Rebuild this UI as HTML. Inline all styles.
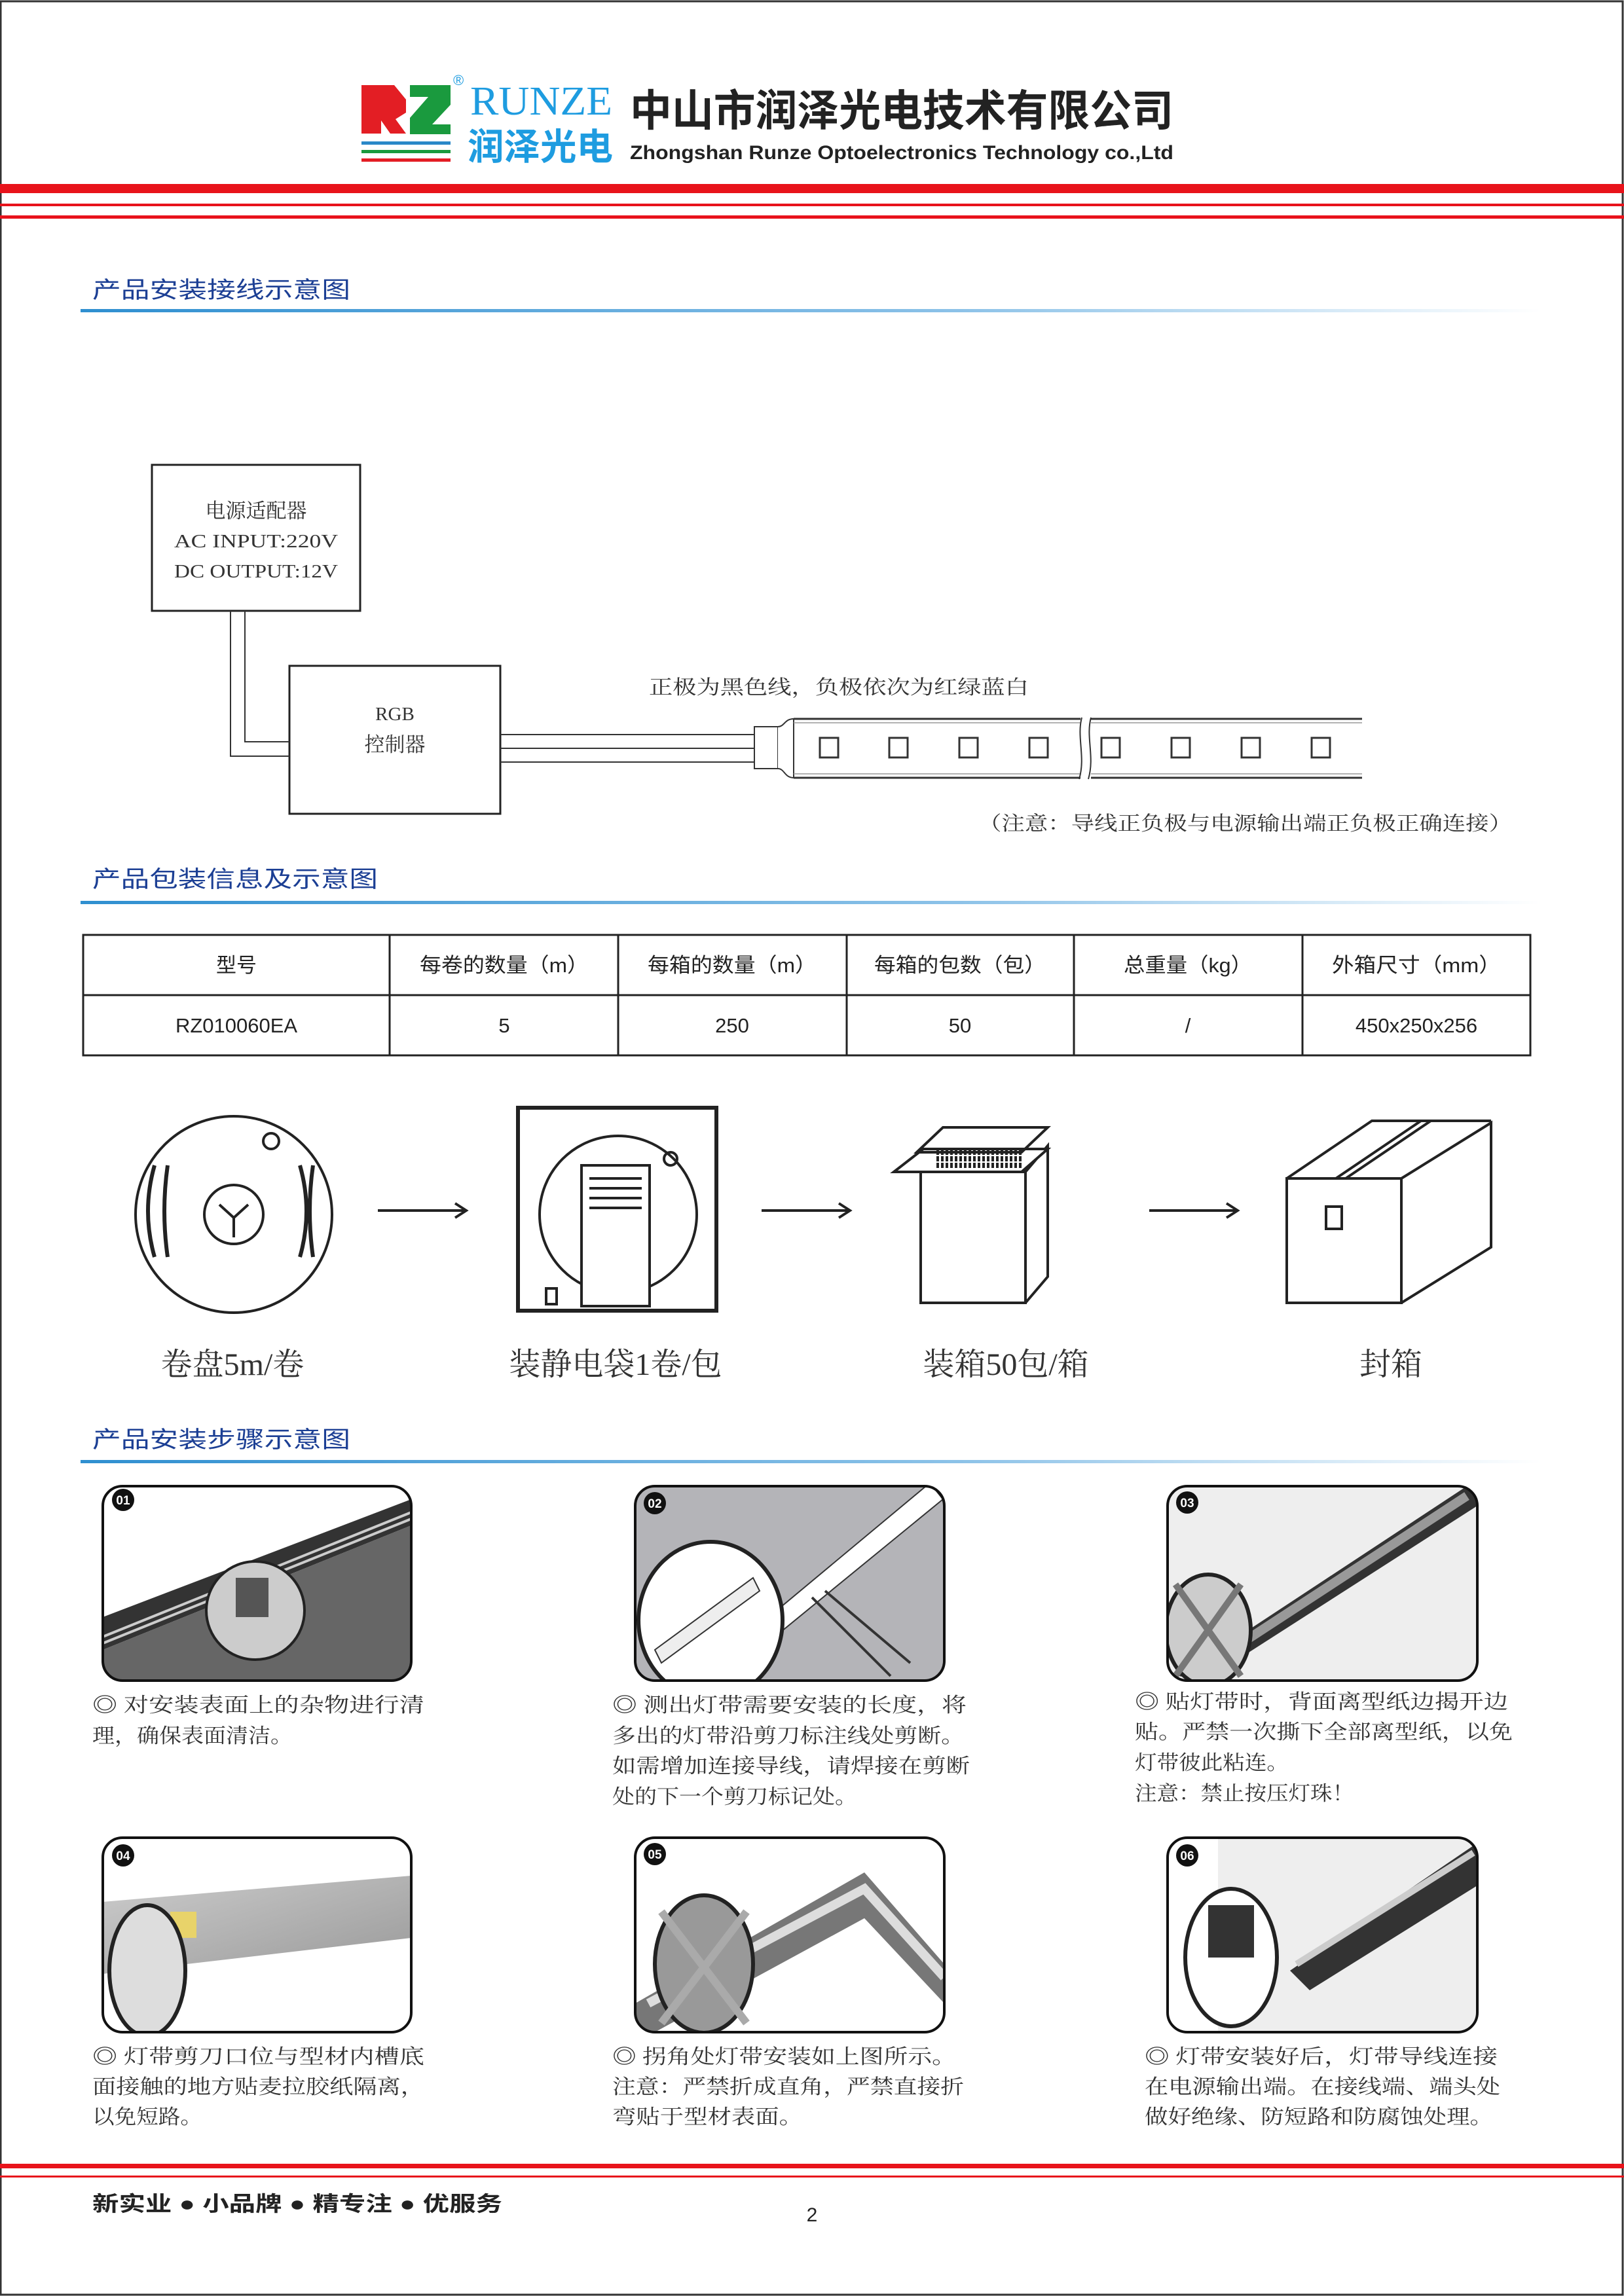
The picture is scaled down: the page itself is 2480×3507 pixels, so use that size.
<!DOCTYPE html>
<html><head><meta charset="utf-8"><style>
html,body{margin:0;padding:0;background:#fff}
svg{display:block}
.s{font-family:"Liberation Serif","Noto Serif CJK SC",serif}
.a{font-family:"Liberation Sans","Noto Sans CJK SC",sans-serif}
</style></head><body>
<svg width="2480" height="3507" viewBox="0 0 2480 3507" xmlns="http://www.w3.org/2000/svg">
<defs>
<linearGradient id="g" x1="0" x2="1"><stop offset="0" stop-color="#2f8fd0"/><stop offset="0.6" stop-color="#8cc2e8"/><stop offset="1" stop-color="#ffffff"/></linearGradient>
<linearGradient id="al" x1="0" x2="1" y1="0" y2="1"><stop offset="0" stop-color="#ccc"/><stop offset="1" stop-color="#999"/></linearGradient>
</defs>
<rect x="1" y="2" width="2477" height="3503" fill="none" stroke="#333" stroke-width="3"/>

<!-- Logo -->
<path d="M552 130h50l18 22v20l-16 10 16 22h-24l-14-20v20h-30z" fill="#e31e24"/>
<path d="M626 130h62v30l-28 30h28v15h-62v-25l28-32h-28z" fill="#1a9a3e"/>
<rect x="552" y="216" width="136" height="5" fill="#2a88c8"/>
<rect x="552" y="229" width="136" height="5" fill="#1a9a3e"/>
<rect x="552" y="242" width="136" height="5" fill="#e31e24"/>
<text x="692" y="130" font-size="22" fill="#1e9ce0" class="a">®</text>
<text x="718" y="175" font-size="62" fill="#1e9ce0" class="s" textLength="217" lengthAdjust="spacingAndGlyphs">RUNZE</text>
<text x="714" y="244" font-size="56" font-weight="bold" fill="#1e9ce0" class="a" textLength="222" lengthAdjust="spacingAndGlyphs">润泽光电</text>
<text x="962" y="192" font-size="66" font-weight="bold" fill="#222" class="a" textLength="830" lengthAdjust="spacingAndGlyphs">中山市润泽光电技术有限公司</text>
<text x="962" y="243" font-size="30" font-weight="bold" fill="#222" class="a" textLength="830" lengthAdjust="spacingAndGlyphs">Zhongshan Runze Optoelectronics Technology co.,Ltd</text>

<rect x="0" y="281" width="2480" height="14" fill="#e8131b"/>
<rect x="0" y="311" width="2480" height="4" fill="#e8131b"/>
<rect x="0" y="329" width="2480" height="5" fill="#e8131b"/>

<!-- Section 1 -->
<text x="141" y="455" font-size="35" fill="#1c3f94" class="a" textLength="394" lengthAdjust="spacingAndGlyphs">产品安装接线示意图</text>
<rect x="123" y="472" width="2230" height="5" fill="url(#g)"/>

<rect x="232" y="710" width="318" height="223" fill="none" stroke="#222" stroke-width="3"/>
<text x="391" y="791" font-size="31" text-anchor="middle" class="s" fill="#333">电源适配器</text>
<text x="391" y="836" font-size="29" text-anchor="middle" class="s" fill="#333" textLength="250" lengthAdjust="spacingAndGlyphs">AC INPUT:220V</text>
<text x="391" y="882" font-size="29" text-anchor="middle" class="s" fill="#333" textLength="250" lengthAdjust="spacingAndGlyphs">DC OUTPUT:12V</text>
<rect x="442" y="1017" width="322" height="226" fill="none" stroke="#222" stroke-width="3"/>
<text x="603" y="1100" font-size="29" text-anchor="middle" class="s" fill="#333">RGB</text>
<text x="603" y="1148" font-size="31" text-anchor="middle" class="s" fill="#333">控制器</text>
<path d="M352 933V1155H442M374 933V1133H442" fill="none" stroke="#333" stroke-width="2"/>
<path d="M764 1122H1152M764 1143H1152M764 1164H1152" stroke="#333" stroke-width="2"/>
<path d="M1152 1110h36v64h-36z" fill="#fff" stroke="#333" stroke-width="2"/>
<path d="M1188 1110c10 0 10-12 24-12v90c-14 0-14-14-24-14" fill="#fff" stroke="#333" stroke-width="2"/>
<path d="M1212 1098H1650M1212 1188H1650M1666 1098H2080M1666 1188H2080" stroke="#333" stroke-width="3"/>
<path d="M1212 1104H1650M1212 1182H1650M1666 1104H2080M1666 1182H2080" stroke="#999" stroke-width="1.5"/>
<path d="M1652 1096c-8 30 6 60-4 94M1666 1096c-8 30 6 60-4 94" fill="none" stroke="#333" stroke-width="2"/>
<g fill="none" stroke="#333" stroke-width="3">
<rect x="1252" y="1127" width="28" height="30"/><rect x="1358" y="1127" width="28" height="30"/><rect x="1465" y="1127" width="28" height="30"/><rect x="1572" y="1127" width="28" height="30"/>
<rect x="1682" y="1127" width="28" height="30"/><rect x="1789" y="1127" width="28" height="30"/><rect x="1896" y="1127" width="28" height="30"/><rect x="2003" y="1127" width="28" height="30"/>
</g>
<text x="991" y="1060" font-size="30" class="s" fill="#333" textLength="580" lengthAdjust="spacingAndGlyphs">正极为黑色线，负极依次为红绿蓝白</text>
<text x="1494" y="1268" font-size="30" class="s" fill="#333" textLength="815" lengthAdjust="spacingAndGlyphs">（注意：导线正负极与电源输出端正负极正确连接）</text>

<!-- Section 2 -->
<text x="141" y="1355" font-size="35" fill="#1c3f94" class="a" textLength="436" lengthAdjust="spacingAndGlyphs">产品包装信息及示意图</text>
<rect x="123" y="1376" width="2230" height="5" fill="url(#g)"/>
<g stroke="#222" stroke-width="3" fill="none">
<rect x="127" y="1428" width="2210" height="184"/>
<path d="M127 1520H2337M595 1428V1612M944 1428V1612M1293 1428V1612M1640 1428V1612M1989 1428V1612"/>
</g>
<g font-size="31" text-anchor="middle" class="a" fill="#222">
<text x="361" y="1485">型号</text><text x="770" y="1485" textLength="258" lengthAdjust="spacingAndGlyphs">每卷的数量（m）</text><text x="1118" y="1485" textLength="258" lengthAdjust="spacingAndGlyphs">每箱的数量（m）</text>
<text x="1466" y="1485" textLength="262" lengthAdjust="spacingAndGlyphs">每箱的包数（包）</text><text x="1814" y="1485" textLength="196" lengthAdjust="spacingAndGlyphs">总重量（kg）</text><text x="2163" y="1485" textLength="258" lengthAdjust="spacingAndGlyphs">外箱尺寸（mm）</text>
<text x="361" y="1577">RZ010060EA</text><text x="770" y="1577">5</text><text x="1118" y="1577">250</text>
<text x="1466" y="1577">50</text><text x="1814" y="1577">/</text><text x="2163" y="1577">450x250x256</text>
</g>

<!-- packaging -->
<g stroke="#222" stroke-width="4" fill="none">
<circle cx="357" cy="1855" r="150"/>
<circle cx="357" cy="1855" r="45"/>
<circle cx="414" cy="1743" r="12"/>
<path d="M236 1780q-20 70 0 140M256 1780q-10 70 0 140M458 1780q20 70 0 140M478 1780q-10 70 0 140" stroke-width="6"/>
<path d="M335 1840l22 20 22-20M357 1860v30"/>
<path d="M577 1849H712M695 1838l17 11-17 11"/>
<rect x="791" y="1692" width="303" height="310" stroke-width="6"/>
<circle cx="944" cy="1855" r="120"/>
<rect x="888" y="1780" width="104" height="215" fill="#fff"/>
<path d="M900 1800h80M900 1815h80M900 1830h80M900 1845h80"/>
<rect x="834" y="1968" width="16" height="24"/>
<circle cx="1024" cy="1770" r="10"/>
<path d="M1163 1849H1298M1281 1838l17 11-17 11"/>
<path d="M1406 1790H1566V1990H1406Z M1566 1790L1600 1750V1950L1566 1990"/>
<path d="M1365 1790L1410 1755H1600L1560 1790Z M1400 1760L1440 1722H1600L1560 1760Z" fill="#fff"/>
<path d="M1430 1760H1560M1430 1770H1560M1430 1780H1560" stroke-dasharray="4 3" stroke-width="8"/>
<path d="M1755 1849H1890M1873 1838l17 11-17 11"/>
<path d="M1965 1800H2140V1990H1965Z M2140 1800L2277 1715V1905L2140 1990 M1965 1800L2095 1712H2277"/>
<path d="M2040 1800L2170 1712M2055 1800L2185 1712"/>
<rect x="2025" y="1843" width="24" height="34"/>
</g>
<g font-size="48" text-anchor="middle" class="s" fill="#333">
<text x="355" y="2100">卷盘5m/卷</text><text x="940" y="2100">装静电袋1卷/包</text><text x="1536" y="2100">装箱50包/箱</text><text x="2124" y="2100">封箱</text>
</g>

<!-- Section 3 -->
<text x="141" y="2211" font-size="35" fill="#1c3f94" class="a" textLength="394" lengthAdjust="spacingAndGlyphs">产品安装步骤示意图</text>
<rect x="123" y="2230" width="2230" height="5" fill="url(#g)"/>

<!-- panel 01 -->
<clipPath id="c1"><rect x="157" y="2270" width="471" height="297" rx="30"/></clipPath>
<g clip-path="url(#c1)">
<rect x="157" y="2270" width="471" height="297" fill="#fff"/>
<path d="M157 2470L628 2290V2330L157 2520Z" fill="#333"/>
<path d="M157 2520L628 2330V2567H157Z" fill="#666"/>
<path d="M157 2500L628 2310" stroke="#ccc" stroke-width="4"/>
<path d="M157 2510L628 2320" stroke="#ccc" stroke-width="4"/>
<circle cx="390" cy="2460" r="75" fill="#ccc" stroke="#222" stroke-width="4"/>
<rect x="360" y="2410" width="50" height="60" fill="#555"/>
</g>
<rect x="157" y="2270" width="471" height="297" rx="30" fill="none" stroke="#111" stroke-width="4"/>
<!-- panel 02 -->
<clipPath id="c2"><rect x="970" y="2270" width="472" height="297" rx="30"/></clipPath>
<g clip-path="url(#c2)">
<rect x="970" y="2270" width="472" height="297" fill="#b4b4b8"/>
<path d="M1090 2540L1420 2265L1440 2290L1110 2560Z" fill="#fff" stroke="#333" stroke-width="2"/>
<ellipse cx="1085" cy="2475" rx="110" ry="120" fill="#fff" stroke="#222" stroke-width="6"/>
<path d="M1000 2520L1150 2410L1160 2430L1010 2540Z" fill="#eee" stroke="#333" stroke-width="2"/>
<path d="M1240 2440L1360 2560M1260 2430L1390 2540" stroke="#333" stroke-width="4" fill="none"/>
</g>
<rect x="970" y="2270" width="472" height="297" rx="30" fill="none" stroke="#111" stroke-width="4"/>
<!-- panel 03 -->
<clipPath id="c3"><rect x="1783" y="2270" width="473" height="297" rx="30"/></clipPath>
<g clip-path="url(#c3)">
<rect x="1783" y="2270" width="473" height="297" fill="#eee"/>
<path d="M1800 2560L2240 2270H2256V2300L1840 2567Z" fill="#333"/>
<path d="M1850 2540L2240 2285" stroke="#999" stroke-width="14"/>
<ellipse cx="1845" cy="2490" rx="65" ry="85" fill="#ccc" stroke="#222" stroke-width="6"/>
<path d="M1795 2420L1895 2560M1895 2420L1795 2560" stroke="#777" stroke-width="10"/>
</g>
<rect x="1783" y="2270" width="473" height="297" rx="30" fill="none" stroke="#111" stroke-width="4"/>
<!-- panel 04 -->
<clipPath id="c4"><rect x="157" y="2807" width="471" height="297" rx="30"/></clipPath>
<g clip-path="url(#c4)">
<rect x="157" y="2807" width="471" height="297" fill="#fff"/>
<path d="M157 2905L628 2865V2960L157 3015Z" fill="url(#al)"/>
<rect x="260" y="2920" width="40" height="40" fill="#e8d36a"/>
<ellipse cx="225" cy="3010" rx="58" ry="100" fill="#ddd" stroke="#222" stroke-width="6"/>
</g>
<rect x="157" y="2807" width="471" height="297" rx="30" fill="none" stroke="#111" stroke-width="4"/>
<!-- panel 05 -->
<clipPath id="c5"><rect x="970" y="2807" width="472" height="297" rx="30"/></clipPath>
<g clip-path="url(#c5)">
<rect x="970" y="2807" width="472" height="297" fill="#fff"/>
<path d="M970 3060L1320 2860L1442 3000V3060L1320 2930L1000 3104H970Z" fill="#777"/>
<path d="M990 3060L1320 2885L1442 3020" stroke="#ddd" stroke-width="14" fill="none"/>
<ellipse cx="1075" cy="3000" rx="75" ry="105" fill="#999" stroke="#222" stroke-width="6"/>
<path d="M1010 2920L1140 3090M1140 2920L1010 3090" stroke="#aaa" stroke-width="12"/>
</g>
<rect x="970" y="2807" width="472" height="297" rx="30" fill="none" stroke="#111" stroke-width="4"/>
<!-- panel 06 -->
<clipPath id="c6"><rect x="1783" y="2807" width="473" height="297" rx="30"/></clipPath>
<g clip-path="url(#c6)">
<rect x="1783" y="2807" width="473" height="297" fill="#fff"/>
<rect x="1860" y="2807" width="396" height="297" fill="#eee"/>
<path d="M1970 3010L2256 2815V2880L2000 3040Z" fill="#333"/>
<path d="M1980 3000L2250 2830" stroke="#ccc" stroke-width="10"/>
<ellipse cx="1880" cy="2990" rx="70" ry="105" fill="#fff" stroke="#222" stroke-width="6"/>
<rect x="1845" y="2910" width="70" height="80" fill="#333"/>
</g>
<rect x="1783" y="2807" width="473" height="297" rx="30" fill="none" stroke="#111" stroke-width="4"/>
<g font-size="19" fill="#fff" font-weight="bold" class="a" text-anchor="middle">
<circle cx="188" cy="2291" r="17" fill="#111"/><text x="188" y="2298">01</text>
<circle cx="1000" cy="2296" r="17" fill="#111"/><text x="1000" y="2303">02</text>
<circle cx="1813" cy="2295" r="17" fill="#111"/><text x="1813" y="2302">03</text>
<circle cx="188" cy="2834" r="17" fill="#111"/><text x="188" y="2841">04</text>
<circle cx="1000" cy="2832" r="17" fill="#111"/><text x="1000" y="2839">05</text>
<circle cx="1813" cy="2834" r="17" fill="#111"/><text x="1813" y="2841">06</text>
</g>
<g font-size="31" class="s" fill="#333" lengthAdjust="spacingAndGlyphs">
<text x="141" y="2615" textLength="507" lengthAdjust="spacingAndGlyphs">◎  对安装表面上的杂物进行清</text><text x="141" y="2662" textLength="306" lengthAdjust="spacingAndGlyphs">理，确保表面清洁。</text>
<text x="935" y="2615" textLength="541" lengthAdjust="spacingAndGlyphs">◎  测出灯带需要安装的长度，将</text><text x="935" y="2662" textLength="538" lengthAdjust="spacingAndGlyphs">多出的灯带沿剪刀标注线处剪断。</text>
<text x="935" y="2708" textLength="546" lengthAdjust="spacingAndGlyphs">如需增加连接导线，请焊接在剪断</text><text x="935" y="2755" textLength="374" lengthAdjust="spacingAndGlyphs">处的下一个剪刀标记处。</text>
<text x="1733" y="2610" textLength="570" lengthAdjust="spacingAndGlyphs">◎  贴灯带时，背面离型纸边揭开边</text><text x="1733" y="2656" textLength="577" lengthAdjust="spacingAndGlyphs">贴。严禁一次撕下全部离型纸，以免</text>
<text x="1733" y="2703" textLength="235" lengthAdjust="spacingAndGlyphs">灯带彼此粘连。</text><text x="1733" y="2750" textLength="335" lengthAdjust="spacingAndGlyphs">注意：禁止按压灯珠！</text>
<text x="141" y="3152" textLength="507" lengthAdjust="spacingAndGlyphs">◎  灯带剪刀口位与型材内槽底</text><text x="141" y="3198" textLength="507" lengthAdjust="spacingAndGlyphs">面接触的地方贴麦拉胶纸隔离，</text><text x="141" y="3244" textLength="168" lengthAdjust="spacingAndGlyphs">以免短路。</text>
<text x="935" y="3152" textLength="525" lengthAdjust="spacingAndGlyphs">◎  拐角处灯带安装如上图所示。</text><text x="935" y="3198" textLength="537" lengthAdjust="spacingAndGlyphs">注意：严禁折成直角，严禁直接折</text><text x="935" y="3244" textLength="291" lengthAdjust="spacingAndGlyphs">弯贴于型材表面。</text>
<text x="1748" y="3152" textLength="539" lengthAdjust="spacingAndGlyphs">◎  灯带安装好后，灯带导线连接</text><text x="1748" y="3198" textLength="543" lengthAdjust="spacingAndGlyphs">在电源输出端。在接线端、端头处</text><text x="1748" y="3244" textLength="532" lengthAdjust="spacingAndGlyphs">做好绝缘、防短路和防腐蚀处理。</text>
</g>

<rect x="0" y="3305" width="2480" height="7" fill="#e8131b"/>
<rect x="0" y="3323" width="2480" height="3" fill="#e8131b"/>
<text x="141" y="3377" font-size="32" font-weight="bold" class="a" fill="#222" textLength="626" lengthAdjust="spacingAndGlyphs">新实业 ● 小品牌 ● 精专注 ● 优服务</text>
<text x="1240" y="3393" font-size="30" class="a" fill="#222" text-anchor="middle">2</text>
</svg>
</body></html>
